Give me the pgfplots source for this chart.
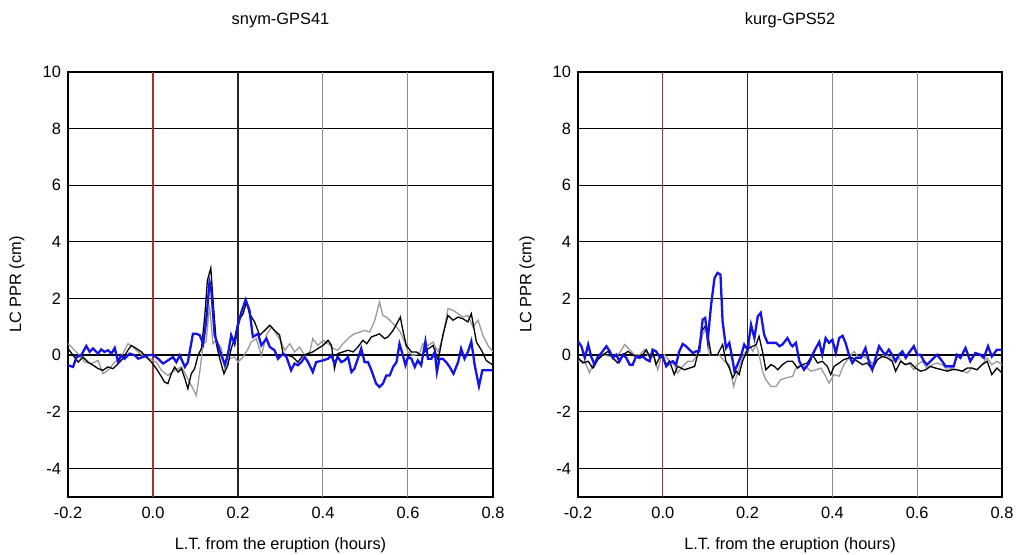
\documentclass[border=0pt]{standalone}
\usepackage{pgfplots}
\pgfplotsset{compat=1.18}
\usepackage{fontspec}
\setmainfont{Liberation Sans}
\definecolor{myblue}{HTML}{1414E6}
\definecolor{mygray}{HTML}{9A9A9A}
\definecolor{myred}{HTML}{A83232}
\definecolor{gridgray}{HTML}{8C8C8C}

\pgfplotsset{
 ppr/.style={
  scale only axis, width=212.5pt, height=212.5pt,
  xmin=-0.2, xmax=0.8, ymin=-5, ymax=10,
  xtick={-0.2,0,0.2,0.4,0.6,0.8},
  xticklabels={-0.2,0.0,0.2,0.4,0.6,0.8},
  ytick={-4,-2,0,2,4,6,8,10},
  major tick length=0pt,
  axis line style={line width=1pt},
  ymajorgrids,
  major grid style={black, line width=0.5pt},
  font=\fontsize{8.2}{10}\selectfont,
  tick label style={font=\fontsize{8.2}{10}\selectfont},
  /pgf/number format/assume math mode=true,
  xticklabel style={yshift=-1.5pt},
  xlabel={L.T. from the eruption (hours)},
  ylabel={LC PPR (cm)},
  every axis x label/.style={at={(axis description cs:0.5,-0.113)}, anchor=center},
  every axis y label/.style={at={(axis description cs:-0.12,0.5)}, rotate=90, anchor=center},
  every axis title/.style={at={(axis description cs:0.5,1.122)}, anchor=center},
 },
 gr/.style={mygray, line width=0.65pt},
 bk/.style={black, line width=0.65pt},
 bl/.style={myblue, line width=1.15pt},
}

\begin{document}
\begin{tikzpicture}

\begin{axis}[ppr, at={(34pt,29pt)}, anchor=south west, title={snym-GPS41}]
\draw[gridgray, line width=0.5pt] (axis cs:0.4,-5) -- (axis cs:0.4,10);
\draw[gridgray, line width=0.5pt] (axis cs:0.6,-5) -- (axis cs:0.6,10);
\draw[black!85, line width=0.6pt] (axis cs:0.2,-5) -- (axis cs:0.2,10);
\draw[myred, line width=0.6pt] (axis cs:0,-5) -- (axis cs:0,10);
\draw[black, line width=0.9pt] (axis cs:-0.2,0) -- (axis cs:0.8,0);
\addplot[gr] coordinates {(-0.200,0.41) (-0.184,0.18) (-0.173,0) (-0.161,-0.24) (-0.145,-0.29) (-0.129,-0.18) (-0.118,-0.65) (-0.106,-0.53) (-0.090,-0.24) (-0.075,-0.06) (-0.059,0.41) (-0.047,0.29) (-0.035,0.12) (-0.024,0) (-0.008,-0.12) (0.008,-0.24) (0.020,-0.53) (0.035,-0.71) (0.051,-0.53) (0.067,-0.41) (0.078,-0.71) (0.090,-1.06) (0.102,-1.41) (0.110,-0.59) (0.118,0.41) (0.125,0.47) (0.133,1.76) (0.141,0.41) (0.149,0.53) (0.161,0.24) (0.169,-0.47) (0.180,-0.12) (0.192,-0.06) (0.200,-0.24) (0.212,-0.06) (0.224,0.24) (0.231,0.47) (0.243,0.59) (0.255,0) (0.267,0.71) (0.278,1.00) (0.290,0.76) (0.302,0.47) (0.310,0.18) (0.322,0.41) (0.333,0.12) (0.345,0.29) (0.357,0) (0.369,0.12) (0.376,0.59) (0.388,0.35) (0.400,0.53) (0.412,0.41) (0.424,0.24) (0.435,0.18) (0.447,0.41) (0.463,0.65) (0.474,0.76) (0.486,0.82) (0.498,0.88) (0.510,0.82) (0.522,1.24) (0.533,1.88) (0.541,1.41) (0.549,1.35) (0.561,1.18) (0.573,1.00) (0.582,0.82) (0.592,0.47) (0.600,0.12) (0.612,0) (0.627,0.06) (0.635,0.41) (0.647,0.35) (0.659,0.47) (0.671,0.12) (0.682,0.65) (0.694,1.65) (0.706,1.59) (0.718,1.47) (0.729,1.35) (0.741,1.41) (0.753,1.00) (0.765,1.24) (0.776,0.71) (0.788,0.35) (0.800,0.12)};
\addplot[bk] coordinates {(-0.200,0.24) (-0.188,0) (-0.176,-0.24) (-0.165,-0.06) (-0.153,-0.24) (-0.141,-0.35) (-0.129,-0.47) (-0.118,-0.53) (-0.106,-0.41) (-0.094,-0.47) (-0.082,-0.29) (-0.071,-0.12) (-0.059,0.18) (-0.051,0.35) (-0.039,0.24) (-0.027,0.12) (-0.016,-0.06) (-0.004,-0.24) (0.008,-0.47) (0.020,-0.76) (0.027,-0.94) (0.035,-1.00) (0.043,-0.65) (0.051,-0.41) (0.059,-0.59) (0.067,-0.47) (0.075,-0.82) (0.082,-1.18) (0.090,-0.65) (0.098,-0.47) (0.106,0) (0.114,0.24) (0.122,1.41) (0.128,2.65) (0.136,3.08) (0.141,2.00) (0.149,0.41) (0.157,-0.12) (0.167,-0.65) (0.176,-0.35) (0.184,0.24) (0.192,0.59) (0.200,1.18) (0.212,1.47) (0.220,1.88) (0.227,1.47) (0.239,1.18) (0.251,0.71) (0.263,0.88) (0.275,1.06) (0.286,0.88) (0.298,0.71) (0.306,0.06) (0.318,0) (0.329,-0.06) (0.341,-0.24) (0.353,0) (0.365,0.06) (0.376,0.12) (0.388,0.24) (0.400,0.35) (0.412,0.53) (0.420,0.35) (0.427,-0.47) (0.435,0.06) (0.447,0.12) (0.459,0.18) (0.471,0.12) (0.482,0.29) (0.494,0.53) (0.503,0.41) (0.514,0.65) (0.525,0.71) (0.533,0.76) (0.545,0.59) (0.553,0.65) (0.565,0.88) (0.576,1.18) (0.582,1.35) (0.588,0.88) (0.596,0.35) (0.608,0.12) (0.620,0.12) (0.631,0) (0.643,0.18) (0.659,0.35) (0.671,-0.18) (0.682,0.71) (0.694,1.41) (0.706,1.24) (0.718,1.35) (0.729,1.29) (0.741,1.18) (0.749,1.47) (0.761,0.47) (0.773,0.18) (0.784,-0.18) (0.800,-0.35)};
\addplot[bl] coordinates {(-0.200,-0.35) (-0.188,-0.41) (-0.180,-0.06) (-0.169,0) (-0.157,0.33) (-0.149,0.12) (-0.141,0.24) (-0.129,0.06) (-0.122,0.21) (-0.114,0.12) (-0.106,0.18) (-0.098,0.06) (-0.090,0.26) (-0.082,-0.24) (-0.075,0) (-0.067,-0.12) (-0.055,0.06) (-0.043,0) (-0.035,-0.12) (-0.024,-0.06) (-0.012,0) (0.000,0.02) (0.012,-0.12) (0.024,-0.29) (0.035,-0.18) (0.047,-0.06) (0.055,-0.24) (0.063,0) (0.075,-0.41) (0.082,-0.24) (0.094,0.76) (0.102,0.76) (0.110,0.71) (0.118,0.41) (0.125,1.18) (0.133,2.59) (0.137,2.35) (0.145,0.71) (0.153,0.35) (0.161,0) (0.169,-0.33) (0.176,0) (0.184,0.71) (0.192,0.41) (0.200,1.06) (0.208,1.53) (0.218,1.96) (0.227,1.59) (0.235,0.65) (0.247,0.76) (0.255,0.35) (0.267,0.59) (0.275,0.29) (0.286,0.18) (0.294,-0.12) (0.306,0.06) (0.314,-0.06) (0.325,-0.53) (0.333,-0.29) (0.341,-0.35) (0.349,-0.24) (0.357,-0.06) (0.365,-0.24) (0.376,-0.59) (0.384,-0.24) (0.392,-0.21) (0.400,-0.18) (0.412,-0.12) (0.420,0) (0.427,-0.29) (0.435,-0.06) (0.443,-0.24) (0.451,-0.18) (0.459,-0.06) (0.467,-0.59) (0.474,-0.47) (0.482,-0.12) (0.490,0.24) (0.498,-0.24) (0.506,-0.24) (0.514,-0.53) (0.525,-1.00) (0.533,-1.12) (0.541,-1.00) (0.549,-0.71) (0.557,-0.71) (0.565,-0.41) (0.573,-0.24) (0.580,0.41) (0.588,0) (0.594,-0.35) (0.600,-0.06) (0.608,-0.12) (0.616,-0.41) (0.623,-0.18) (0.631,-0.35) (0.641,0.49) (0.647,-0.12) (0.655,-0.12) (0.663,0.12) (0.668,-0.59) (0.674,-0.12) (0.682,-0.12) (0.690,-0.24) (0.698,-0.41) (0.707,-0.65) (0.718,-0.24) (0.725,0.24) (0.733,-0.12) (0.741,0.12) (0.749,0.49) (0.757,-0.35) (0.767,-1.09) (0.775,-0.53) (0.784,-0.53) (0.792,-0.53) (0.800,-0.53)};
\end{axis}

\begin{axis}[ppr, at={(289pt,29pt)}, anchor=south west, width=212pt, title={kurg-GPS52}]
\draw[gridgray, line width=0.5pt] (axis cs:0.4,-5) -- (axis cs:0.4,10);
\draw[gridgray, line width=0.5pt] (axis cs:0.6,-5) -- (axis cs:0.6,10);
\draw[black!85, line width=0.6pt] (axis cs:0.2,-5) -- (axis cs:0.2,10);
\draw[myred, line width=0.6pt] (axis cs:0,-5) -- (axis cs:0,10);
\draw[black, line width=0.9pt] (axis cs:-0.2,0) -- (axis cs:0.8,0);
\addplot[gr] coordinates {(-0.200,-0.21) (-0.184,-0.21) (-0.173,-0.62) (-0.165,-0.33) (-0.153,-0.09) (-0.141,0.02) (-0.125,-0.04) (-0.114,-0.04) (-0.102,0.08) (-0.090,0.38) (-0.078,0.20) (-0.067,0.02) (-0.055,0.02) (-0.043,0.20) (-0.031,-0.09) (-0.020,-0.04) (-0.012,-0.51) (-0.004,-0.09) (0.004,0.02) (0.016,-0.21) (0.027,-0.33) (0.035,-0.62) (0.047,-0.39) (0.059,-0.21) (0.071,-0.21) (0.082,0.02) (0.094,0.73) (0.102,0.96) (0.110,0.02) (0.122,0.02) (0.133,0.02) (0.145,-0.21) (0.157,-0.33) (0.167,-1.10) (0.176,-0.62) (0.188,-0.09) (0.196,0.14) (0.204,0.38) (0.212,0.14) (0.220,0.38) (0.227,0.02) (0.235,-0.56) (0.243,-0.86) (0.255,-1.10) (0.267,-1.10) (0.278,-0.86) (0.290,-0.80) (0.306,-0.74) (0.314,-0.45) (0.325,-0.33) (0.337,-0.39) (0.349,-0.56) (0.361,-0.51) (0.373,-0.45) (0.384,-0.74) (0.392,-0.98) (0.404,-0.68) (0.416,-0.74) (0.427,-0.33) (0.439,-0.09) (0.451,0.14) (0.463,-0.09) (0.474,-0.04) (0.486,-0.15) (0.498,-0.33) (0.510,-0.09) (0.522,0.02) (0.533,-0.04) (0.545,-0.21) (0.557,-0.09) (0.569,-0.33) (0.580,-0.27) (0.592,-0.51) (0.600,-0.33) (0.612,-0.21) (0.623,-0.45) (0.635,-0.33) (0.647,-0.27) (0.659,-0.33) (0.671,-0.51) (0.682,-0.45) (0.694,-0.51) (0.706,-0.56) (0.718,-0.62) (0.729,-0.45) (0.741,-0.51) (0.753,-0.33) (0.765,-0.09) (0.776,-0.33) (0.788,-0.21) (0.800,-0.33)};
\addplot[bk] coordinates {(-0.200,-0.09) (-0.188,-0.27) (-0.176,-0.21) (-0.165,-0.45) (-0.153,-0.15) (-0.141,0.02) (-0.129,0.14) (-0.118,-0.09) (-0.106,-0.27) (-0.094,0.02) (-0.082,0.14) (-0.071,0.02) (-0.059,-0.09) (-0.047,0.02) (-0.039,0.20) (-0.031,-0.04) (-0.024,0.14) (-0.016,-0.33) (-0.008,-0.09) (0.000,-0.04) (0.008,-0.33) (0.016,-0.21) (0.027,-0.68) (0.035,-0.39) (0.043,-0.45) (0.051,-0.51) (0.063,-0.45) (0.075,-0.39) (0.082,0.02) (0.092,0.85) (0.100,1.03) (0.106,0.73) (0.114,0.02) (0.129,0.02) (0.141,0.38) (0.149,-0.21) (0.157,-0.45) (0.165,-0.80) (0.173,-0.56) (0.180,-0.68) (0.188,-0.21) (0.196,0.08) (0.204,0.26) (0.212,0.32) (0.220,0.38) (0.227,0.67) (0.235,0.14) (0.243,-0.51) (0.255,-0.33) (0.263,-0.39) (0.271,-0.51) (0.282,-0.33) (0.294,-0.21) (0.306,-0.21) (0.318,-0.45) (0.329,-0.33) (0.341,-0.27) (0.353,0.02) (0.365,-0.27) (0.376,-0.21) (0.388,-0.39) (0.396,-0.68) (0.404,-0.39) (0.416,-0.27) (0.427,-0.15) (0.439,-0.09) (0.447,-0.09) (0.459,-0.21) (0.471,-0.33) (0.482,-0.27) (0.494,-0.51) (0.506,-0.15) (0.518,-0.04) (0.529,-0.09) (0.541,-0.21) (0.549,-0.56) (0.561,-0.21) (0.573,-0.33) (0.584,-0.27) (0.596,-0.45) (0.608,-0.56) (0.620,-0.51) (0.631,-0.39) (0.643,-0.45) (0.659,-0.51) (0.671,-0.56) (0.682,-0.51) (0.694,-0.51) (0.706,-0.56) (0.718,-0.45) (0.729,-0.45) (0.741,-0.51) (0.753,-0.33) (0.765,-0.21) (0.776,-0.68) (0.788,-0.45) (0.800,-0.62)};
\addplot[bl] coordinates {(-0.200,0.49) (-0.192,0.32) (-0.184,-0.09) (-0.176,0.38) (-0.169,-0.04) (-0.161,-0.33) (-0.153,-0.04) (-0.145,0.08) (-0.133,0.32) (-0.125,0.14) (-0.118,-0.09) (-0.110,0.02) (-0.102,-0.21) (-0.094,0.02) (-0.086,-0.09) (-0.078,-0.33) (-0.071,-0.33) (-0.063,-0.04) (-0.055,-0.09) (-0.047,-0.04) (-0.039,-0.15) (-0.031,-0.21) (-0.024,0.20) (-0.016,0.14) (-0.008,-0.04) (0.000,-0.04) (0.008,-0.39) (0.016,-0.27) (0.024,-0.21) (0.031,-0.33) (0.039,0.14) (0.047,0.40) (0.055,0.32) (0.063,0.20) (0.071,0.08) (0.078,0.14) (0.086,0.14) (0.094,1.26) (0.100,1.32) (0.106,0.55) (0.114,1.79) (0.122,2.73) (0.129,2.91) (0.136,2.85) (0.141,1.20) (0.149,0.26) (0.157,0.44) (0.165,-0.21) (0.169,-0.56) (0.176,-0.33) (0.184,-0.04) (0.192,0.38) (0.200,0.20) (0.208,1.08) (0.216,0.61) (0.224,1.38) (0.231,1.50) (0.239,0.73) (0.247,0.44) (0.255,0.44) (0.267,0.44) (0.275,0.32) (0.282,0.38) (0.294,0.61) (0.302,0.38) (0.306,0.32) (0.314,0.44) (0.322,-0.21) (0.333,-0.51) (0.345,-0.27) (0.353,0.02) (0.361,0.26) (0.369,0.47) (0.376,0.02) (0.384,0.61) (0.392,0.44) (0.400,0.55) (0.408,0.08) (0.416,0.61) (0.424,0.69) (0.431,0.44) (0.439,0.02) (0.447,-0.27) (0.455,-0.09) (0.467,-0.09) (0.478,0.26) (0.486,-0.21) (0.494,-0.51) (0.502,-0.09) (0.510,0.32) (0.518,0.14) (0.525,0.02) (0.533,0.20) (0.541,0.02) (0.549,-0.21) (0.557,0.02) (0.565,0.14) (0.573,-0.09) (0.580,0.08) (0.592,0.32) (0.600,0.02) (0.608,0.02) (0.616,-0.21) (0.623,-0.33) (0.635,-0.15) (0.647,0.02) (0.659,-0.21) (0.667,-0.39) (0.674,-0.39) (0.686,-0.39) (0.694,0.02) (0.702,-0.09) (0.714,0.26) (0.725,-0.21) (0.737,0.08) (0.749,0.02) (0.757,-0.09) (0.767,0.32) (0.776,-0.04) (0.788,0.20) (0.800,0.20)};
\end{axis}

\pgfresetboundingbox
\useasboundingbox (0,0) rectangle (509pt,277.5pt);
\end{tikzpicture}
\end{document}
